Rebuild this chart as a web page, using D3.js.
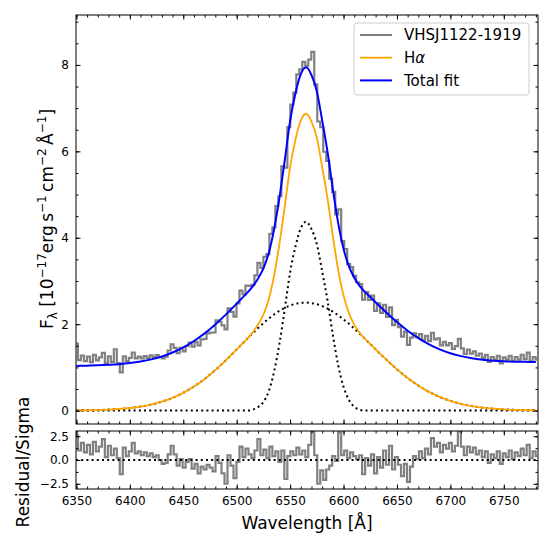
<!DOCTYPE html>
<html><head><meta charset="utf-8">
<script src="https://cdn.jsdelivr.net/npm/d3@7"></script>
<style>body{margin:0;background:#fff} svg text{font-family:"DejaVu Sans",sans-serif}</style>
</head><body><svg id="c" width="553" height="553"></svg>
<script>
// ---- data ----
const lamStart = 6350, lamStep = 2.8;
const flux = [1.55,1.166,1.271,1.143,1.249,1.121,1.292,1.164,1.232,1.339,
 1.095,1.255,1.130,1.42,1.100,0.885,1.256,1.146,1.219,1.345,
 1.211,1.248,1.208,1.260,1.222,1.276,1.241,1.286,1.241,1.211,
 1.248,1.391,1.535,1.450,1.327,1.452,1.370,1.489,1.571,1.481,
 1.594,1.507,1.650,1.660,1.786,1.804,1.808,2.087,2.056,1.973,
 1.882,2.366,2.284,2.175,2.479,2.778,2.691,2.892,2.886,2.911,
 3.13,3.42,3.30,3.56,3.62,4.09,4.24,4.73,4.96,5.65,
 5.62,6.56,7.08,7.36,7.78,7.90,8.07,7.98,8.12,8.30,
 7.55,6.69,6.56,5.99,5.78,5.37,5.06,4.54,4.66,3.92,
 3.74,3.39,3.32,3.12,2.97,2.93,2.57,2.74,2.56,2.66,
 2.31,2.48,2.26,2.45,2.17,2.39,1.98,2.10,1.93,1.71,
 1.83,1.52,1.69,1.79,1.70,1.77,1.63,1.73,1.61,1.80,
 1.65,1.67,1.51,1.59,1.51,1.56,1.43,1.49,1.66,1.44,
 1.31,1.41,1.32,1.37,1.27,1.32,1.22,1.29,1.13,1.24,
 1.18,1.27,1.09,1.23,1.18,1.27,1.15,1.24,1.18,1.29,
 1.19,1.34,1.15,1.24,1.18];
const resid = [2.6,1.0,1.8,0.8,1.6,0.6,1.9,0.9,1.4,2.2,
 0.3,1.5,0.5,1.2,0.2,-1.5,1.3,0.4,0.9,1.8,
 0.7,0.9,0.5,0.8,0.4,0.7,0.3,0.5,0.0,-0.4,
 -0.3,0.6,1.5,0.6,-0.6,0.1,-0.8,-0.2,0.1,-0.9,
 -0.4,-1.4,-0.7,-1.0,-0.5,-0.8,-1.2,0.4,-0.3,-1.4,
 -2.5,0.5,-0.6,-1.9,-0.2,1.4,0.3,1.2,0.6,0.2,
 1.0,2.2,0.5,1.1,0.2,1.4,0.4,0.9,-0.2,1.0,
 -2.0,0.4,0.9,0.5,1.3,0.6,1.0,0.3,1.6,3.0,
 0.5,-2.5,-1.1,-2.1,-1.0,-0.6,0.4,-0.1,2.9,0.5,
 1.0,0.2,0.8,0.4,0.1,0.5,-1.5,0.2,-0.6,0.6,
 -1.4,0.3,-0.8,1.0,-0.5,1.5,-1.0,0.3,-0.5,-1.7,
 -0.4,-2.3,-0.7,0.4,0.1,0.9,0.2,1.2,0.6,2.3,
 1.4,1.8,0.8,1.6,1.2,1.8,0.9,1.5,3.0,1.4,
 0.5,1.4,0.8,1.3,0.6,1.0,0.3,0.9,-0.3,0.6,
 0.2,0.9,-0.4,0.7,0.3,1.0,0.1,0.8,0.4,1.2,
 0.5,1.6,0.2,0.9,0.4];
const fitLam = [6350,6360,6370,6380,6390,6400,6410,6420,6430,6440,6450,6460,6470,6480,6490,6500,
 6505,6510,6515,6520,6525,6530,6535,6540,6545,6550,6555,6560,6565,6570,6575,6580,6585,6590,6595,6600,6605,6610,6615,6620,6625,6630,
 6640,6650,6660,6670,6680,6690,6700,6710,6720,6730,6740,6750,6760,6770,6780];
const totalFit = [1.034,1.040,1.047,1.059,1.075,1.100,1.136,1.185,1.253,1.344,1.462,1.610,1.788,1.995,2.227,2.476,
 2.604,2.730,2.875,3.057,3.291,3.647,4.193,4.928,5.799,6.705,7.345,7.788,7.945,7.764,7.388,6.716,5.990,5.120,4.337,3.744,3.342,3.073,2.888,2.749,2.628,2.507,
 2.271,2.048,1.849,1.677,1.533,1.418,1.328,1.261,1.212,1.178,1.156,1.142,1.133,1.128,1.126];
const halpha = [0.004,0.008,0.013,0.023,0.037,0.060,0.093,0.140,0.206,0.295,0.411,0.557,0.733,0.938,1.168,1.415,
 1.542,1.667,1.811,1.991,2.224,2.579,3.124,3.858,4.728,5.633,6.272,6.714,6.870,6.688,6.311,5.638,4.911,4.040,3.256,2.662,2.259,1.989,1.803,1.663,1.541,1.418,
 1.180,0.955,0.754,0.580,0.434,0.317,0.225,0.156,0.105,0.069,0.044,0.028,0.017,0.010,0.006];
const broad = [0.004,0.008,0.013,0.023,0.037,0.060,0.093,0.140,0.206,0.295,0.411,0.557,0.733,0.938,1.168,1.415,
 1.542,1.667,1.791,1.911,2.024,2.129,2.224,2.308,2.378,2.433,2.472,2.494,2.500,2.488,2.461,2.418,2.361,2.290,2.206,2.112,2.009,1.899,1.783,1.663,1.541,1.418,
 1.180,0.955,0.754,0.580,0.434,0.317,0.225,0.156,0.105,0.069,0.044,0.028,0.017,0.010,0.006];
const narrow = [0,0,0,0,0,0,0,0,0,0,0,0,0,0,0,0,
 0,0,0.02,0.08,0.20,0.45,0.90,1.55,2.35,3.20,3.80,4.22,4.37,4.20,3.85,3.22,2.55,1.75,1.05,0.55,0.25,0.09,0.02,0,0,0,
 0,0,0,0,0,0,0,0,0,0,0,0,0,0,0];
const xTicks = [6350,6400,6450,6500,6550,6600,6650,6700,6750];
const yTicksTop = [0,2,4,6,8];
const yTicksRes = [-2.5,0,2.5];
const legendLabels = ["VHSJ1122-1919","H","Total fit"];

// ---- layout ----
const L = 76, R = 538, T1 = 15, B1 = 424, T2 = 431, B2 = 489;
const svg = d3.select("#c");
const x = d3.scaleLinear().domain([6349.6, 6782]).range([L, R]);
const yT = d3.scaleLinear().domain([-0.31, 9.155]).range([B1, T1]);
const yR = d3.scaleLinear().domain([-3.05, 3.05]).range([B2, T2]);

const defs = svg.append("defs");
defs.append("clipPath").attr("id","cp1").append("rect").attr("x",L).attr("y",T1).attr("width",R-L).attr("height",B1-T1);
defs.append("clipPath").attr("id","cp2").append("rect").attr("x",L).attr("y",T2).attr("width",R-L).attr("height",B2-T2);

const specPts = flux.map((f,i)=>[lamStart+i*lamStep, f]);
const resPts = resid.map((r,i)=>[lamStart+i*lamStep, r]);

const g1 = svg.append("g").attr("clip-path","url(#cp1)");
const smooth = (arr)=> d3.line().x((d,i)=>x(fitLam[i])).y(d=>yT(d)).curve(d3.curveMonotoneX)(arr);
const dotted = {"stroke":"#000","stroke-width":2,"stroke-dasharray":"2,3.2"};
function styled(sel, st){ for(const k in st) sel.attr(k, st[k]); return sel; }
styled(g1.append("path").attr("d", smooth(narrow)).attr("fill","none"), dotted);
styled(g1.append("path").attr("d", smooth(broad)).attr("fill","none"), dotted);
g1.append("path").attr("d", smooth(halpha)).attr("fill","none").attr("stroke","#ffa500").attr("stroke-width",1.8);
g1.append("path").attr("d", d3.line().x(d=>x(d[0])).y(d=>yT(d[1])).curve(d3.curveStep)(specPts))
  .attr("fill","none").attr("stroke","#808080").attr("stroke-width",2.2);
g1.append("path").attr("d", smooth(totalFit)).attr("fill","none").attr("stroke","#0000ff").attr("stroke-width",2);

const g2 = svg.append("g").attr("clip-path","url(#cp2)");
g2.append("path").attr("d", d3.line().x(d=>x(d[0])).y(d=>yR(d[1])).curve(d3.curveStep)(resPts))
  .attr("fill","none").attr("stroke","#808080").attr("stroke-width",2.2);
styled(g2.append("line").attr("x1",L).attr("x2",R).attr("y1",yR(0)).attr("y2",yR(0)), dotted);

// ---- axes ----
function ax(gen, tr, vals, size, fmt){
  const g = svg.append("g").attr("transform", tr)
    .call(gen.tickValues(vals).tickSize(size).tickPadding(7).tickFormat(fmt));
  g.select(".domain").remove();
  g.attr("font-family","DejaVu Sans").attr("font-size",12);
  g.selectAll("line").attr("stroke","#000").attr("stroke-width",1);
  g.selectAll("text").attr("fill","#000");
  return g;
}
const none = ()=>"";
const minorX = d3.range(6350, 6781, 10);
const minorYT = d3.range(0, 9.01, 0.5);
const minorYR = [-2.5,-1.25,0,1.25,2.5];
const fmtT = d=>String(d);
const fmtR = d=>(d<0?"\u2212":"")+Math.abs(d).toFixed(1);
// top panel
ax(d3.axisLeft(yT), `translate(${L},0)`, yTicksTop, -4.5, fmtT);
ax(d3.axisLeft(yT), `translate(${L},0)`, minorYT, -2.5, none);
ax(d3.axisRight(yT), `translate(${R},0)`, yTicksTop, -4.5, none);
ax(d3.axisRight(yT), `translate(${R},0)`, minorYT, -2.5, none);
ax(d3.axisBottom(x), `translate(0,${B1})`, xTicks, -4.5, none);
ax(d3.axisBottom(x), `translate(0,${B1})`, minorX, -2.5, none);
ax(d3.axisTop(x), `translate(0,${T1})`, xTicks, -4.5, none);
ax(d3.axisTop(x), `translate(0,${T1})`, minorX, -2.5, none);
// residual panel
ax(d3.axisLeft(yR), `translate(${L},0)`, yTicksRes, -4.5, fmtR);
ax(d3.axisLeft(yR), `translate(${L},0)`, minorYR, -2.5, none);
ax(d3.axisRight(yR), `translate(${R},0)`, yTicksRes, -4.5, none);
ax(d3.axisRight(yR), `translate(${R},0)`, minorYR, -2.5, none);
ax(d3.axisBottom(x), `translate(0,${B2})`, xTicks, -4.5, d=>String(d));
ax(d3.axisBottom(x), `translate(0,${B2})`, minorX, -2.5, none);
ax(d3.axisTop(x), `translate(0,${T2})`, xTicks, -4.5, none);
ax(d3.axisTop(x), `translate(0,${T2})`, minorX, -2.5, none);

// frames
[[T1,B1],[T2,B2]].forEach(([a,b])=>svg.append("rect").attr("x",L).attr("y",a).attr("width",R-L).attr("height",b-a)
  .attr("fill","none").attr("stroke","#000").attr("stroke-width",1));

// ---- labels ----
svg.append("text").attr("x",(L+R)/2).attr("y",529).attr("text-anchor","middle").attr("font-size",17).text("Wavelength [Å]");
svg.append("text").attr("transform","translate(29,462) rotate(-90)").attr("text-anchor","middle").attr("font-size",17).text("Residual/Sigma");
const yl = svg.append("text").attr("transform","translate(53,219) rotate(-90)").attr("text-anchor","middle").attr("font-size",17);
const parts = [["F",0,17],["λ",4,12],[" [10",-4,17],["\u221217",-7,12],["erg\u2009s",7,17],["\u22121",-7,12],["\u2009cm",7,17],["\u22122",-7,12],["\u2009Å",7,17],["\u22121",-7,12],["]",7,17]];
parts.forEach(([t,dy,fs])=>yl.append("tspan").attr("dy",dy).attr("font-size",fs).text(t));

// ---- legend ----
const lg = svg.append("g");
lg.append("rect").attr("x",354).attr("y",23).attr("width",175).attr("height",72).attr("rx",3)
  .attr("fill","#fff").attr("fill-opacity",0.8).attr("stroke","#cccccc").attr("stroke-width",1);
const legColors = ["#808080","#ffa500","#0000ff"];
const legWidths = [2,1.8,2];
legendLabels.forEach((lab,i)=>{
  const yy = 35 + i*22.7;
  lg.append("line").attr("x1",360).attr("x2",392).attr("y1",yy).attr("y2",yy).attr("stroke",legColors[i]).attr("stroke-width",legWidths[i]);
  const t = lg.append("text").attr("x",404).attr("y",yy).attr("dy","0.35em").attr("font-size",15).text(lab);
  if(i===1) t.append("tspan").attr("font-style","italic").text("α");
});
</script></body></html>
